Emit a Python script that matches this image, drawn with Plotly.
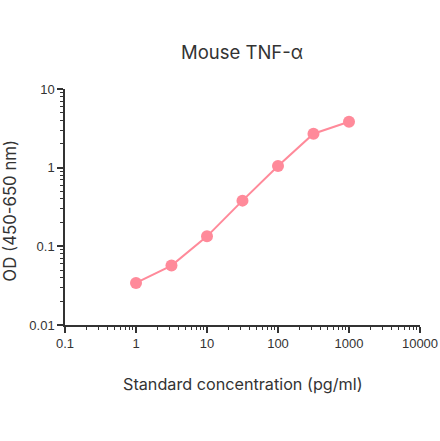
import plotly.graph_objects as go

concentration = [1, 3.16, 10, 31.6, 100, 316, 1000]
od = [0.0343, 0.0569, 0.134, 0.381, 1.05, 2.70, 3.84]

x_ticks = [0.1, 1, 10, 100, 1000, 10000]
x_labels = ["0.1", "1", "10", "100", "1000", "10000"]
y_ticks = [0.01, 0.1, 1, 10]
y_labels = ["0.01", "0.1", "1", "10"]

x_minor = [m * d for d in x_ticks[:-1] for m in range(2, 10)]
y_minor = [m * d for d in y_ticks[:-1] for m in range(2, 10)]

pink = "#FF8A9A"
ink = "#333333"
title_font = "Inter"
tick_font = "Liberation Sans"

fig = go.Figure()
fig.add_trace(go.Scatter(
    x=concentration, y=od, mode="lines+markers",
    line=dict(color=pink, width=2),
    marker=dict(color=pink, size=12),
    showlegend=False,
))

axis_common = dict(
    type="log", showgrid=False, zeroline=False, automargin=False,
    showline=True, linecolor=ink, linewidth=1.5,
    ticks="outside", ticklen=6, tickwidth=1.5, tickcolor=ink,
    tickfont=dict(size=13, color=ink, family=tick_font),
)

fig.update_xaxes(
    **axis_common, range=[-1, 4], tickvals=x_ticks, ticktext=x_labels,
    minor=dict(tickvals=x_minor, ticks="outside", ticklen=3, tickcolor=ink, tickwidth=1),
)
fig.update_yaxes(
    **axis_common, range=[-2, 1], tickvals=y_ticks, ticktext=y_labels,
    minor=dict(tickvals=y_minor, ticks="outside", ticklen=3, tickcolor=ink, tickwidth=1),
)

fig.add_annotation(text="Standard concentration (pg/ml)", xref="paper", yref="paper",
                   x=0.5, y=-0.25, xanchor="center", yanchor="middle", showarrow=False,
                   font=dict(size=16.2, color=ink, family=title_font))
fig.add_annotation(text="OD (450-650 nm)", xref="paper", yref="paper",
                   x=-0.156, y=0.483, xanchor="center", yanchor="middle", textangle=-90,
                   showarrow=False, font=dict(size=16.8, color=ink, family=title_font))

fig.update_layout(
    width=440, height=441,
    margin=dict(l=65, r=20, t=89, b=116),
    paper_bgcolor="white", plot_bgcolor="white",
    font=dict(family=title_font, color=ink),
    title=dict(text="Mouse TNF-α", x=0.55, xanchor="center", y=0.882, yanchor="middle",
               font=dict(size=18.5, color=ink, family=title_font)),
)

fig.write_html("out.html", config={"displayModeBar": False},
               post_script="document.body.style.margin = '0';")
